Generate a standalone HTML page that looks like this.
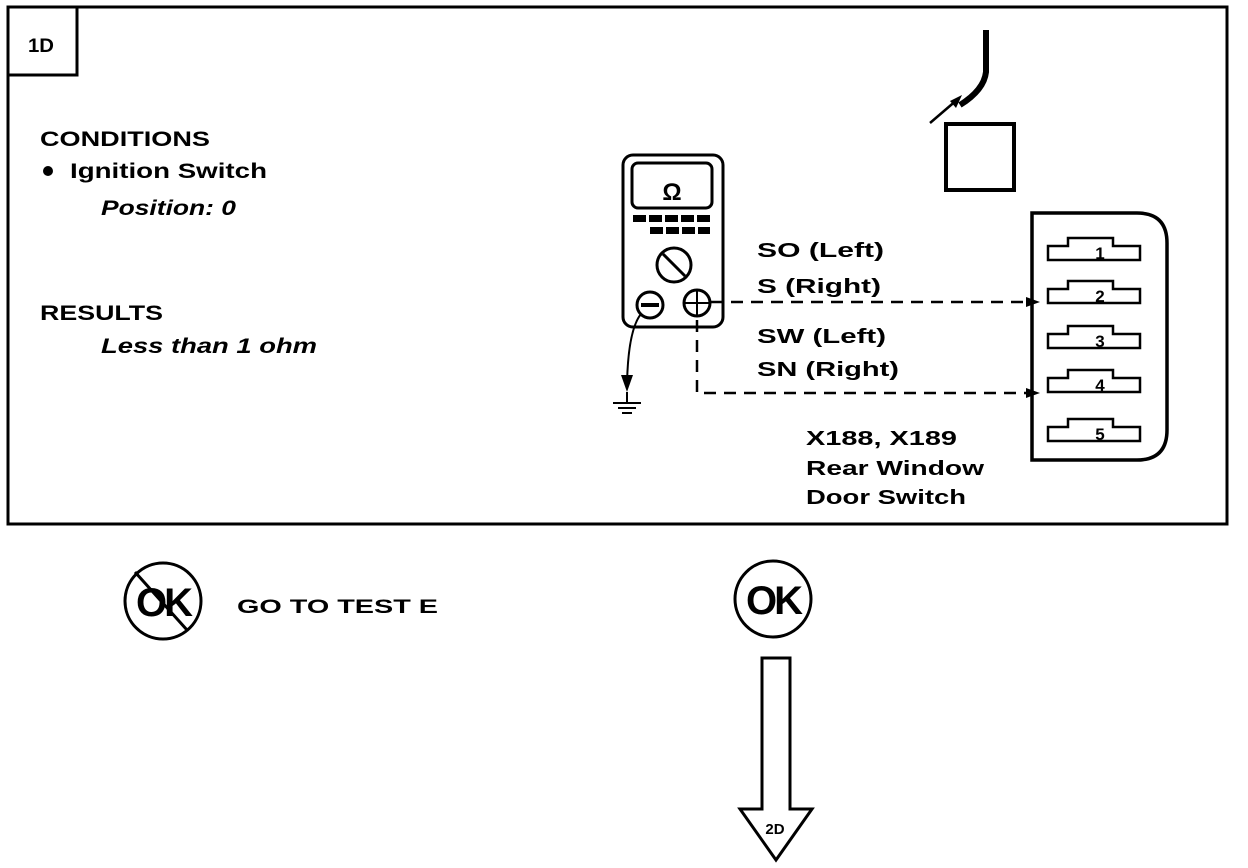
<!DOCTYPE html>
<html><head><style>html,body{margin:0;padding:0;background:#fff}svg{display:block}text{font-family:"Liberation Sans",sans-serif;font-weight:bold;fill:#000}</style></head>
<body>
<svg width="1248" height="868" viewBox="0 0 1248 868" xmlns="http://www.w3.org/2000/svg">
<rect x="8" y="7" width="1219" height="517" fill="none" stroke="#000" stroke-width="3"/>
<rect x="8" y="7" width="69" height="68" fill="none" stroke="#000" stroke-width="3"/>
<text x="28" y="52" font-size="19" textLength="26" lengthAdjust="spacingAndGlyphs">1D</text>
<text x="40" y="146" font-size="21" textLength="170" lengthAdjust="spacingAndGlyphs">CONDITIONS</text>
<circle cx="48" cy="171" r="5"/>
<text x="70" y="178" font-size="21" textLength="197" lengthAdjust="spacingAndGlyphs">Ignition Switch</text>
<text x="101" y="215" font-size="21" font-style="italic" font-weight="normal" textLength="135" lengthAdjust="spacingAndGlyphs">Position: 0</text>
<text x="40" y="320" font-size="21" textLength="123" lengthAdjust="spacingAndGlyphs">RESULTS</text>
<text x="101" y="353" font-size="21" font-style="italic" font-weight="normal" textLength="216" lengthAdjust="spacingAndGlyphs">Less than 1 ohm</text>
<!-- meter -->
<rect x="623" y="155" width="100" height="172" rx="10" fill="none" stroke="#000" stroke-width="3"/>
<rect x="632" y="163" width="80" height="45" rx="6" fill="none" stroke="#000" stroke-width="3"/>
<text x="672" y="200" font-size="24" text-anchor="middle">Ω</text>
<g fill="#000"><rect x="633" y="215" width="13" height="7"/><rect x="649" y="215" width="13" height="7"/><rect x="665" y="215" width="13" height="7"/><rect x="681" y="215" width="13" height="7"/><rect x="697" y="215" width="13" height="7"/>
<rect x="650" y="227" width="13" height="7"/><rect x="666" y="227" width="13" height="7"/><rect x="682" y="227" width="13" height="7"/><rect x="698" y="227" width="12" height="7"/></g>
<circle cx="674" cy="265" r="17" fill="none" stroke="#000" stroke-width="3"/>
<line x1="663" y1="254" x2="685" y2="276" stroke="#000" stroke-width="3"/>
<circle cx="650" cy="305" r="13" fill="none" stroke="#000" stroke-width="3"/>
<line x1="641" y1="305" x2="659" y2="305" stroke="#000" stroke-width="4"/>
<circle cx="697" cy="303" r="13" fill="none" stroke="#000" stroke-width="3"/>
<line x1="684" y1="303" x2="710" y2="303" stroke="#000" stroke-width="2"/>
<line x1="697" y1="290" x2="697" y2="316" stroke="#000" stroke-width="2"/>
<path d="M641 314 Q628 330 627 385" fill="none" stroke="#000" stroke-width="2"/>
<path d="M621 375 L627 392 L633 375 Z"/>
<line x1="627" y1="392" x2="627" y2="402" stroke="#000" stroke-width="2"/>
<line x1="613" y1="403" x2="641" y2="403" stroke="#000" stroke-width="2"/>
<line x1="618" y1="408" x2="636" y2="408" stroke="#000" stroke-width="2"/>
<line x1="622" y1="413" x2="632" y2="413" stroke="#000" stroke-width="2"/>
<path d="M711 302 H1030" stroke="#000" stroke-width="2.5" stroke-dasharray="12,8" fill="none"/>
<path d="M697 320 V393 H1030" stroke="#000" stroke-width="2.5" stroke-dasharray="12,8" fill="none"/>
<path d="M1026 297 L1040 302 L1026 307 Z"/>
<path d="M1026 388 L1040 393 L1026 398 Z"/>
<text x="757" y="257" font-size="20" textLength="127" lengthAdjust="spacingAndGlyphs">SO  (Left)</text>
<text x="757" y="293" font-size="20" textLength="124" lengthAdjust="spacingAndGlyphs">S  (Right)</text>
<text x="757" y="343" font-size="20" textLength="129" lengthAdjust="spacingAndGlyphs">SW  (Left)</text>
<text x="757" y="376" font-size="20" textLength="142" lengthAdjust="spacingAndGlyphs">SN  (Right)</text>
<text x="806" y="445" font-size="20" textLength="151" lengthAdjust="spacingAndGlyphs">X188, X189</text>
<text x="806" y="475" font-size="20" textLength="178" lengthAdjust="spacingAndGlyphs">Rear Window</text>
<text x="806" y="504" font-size="20" textLength="160" lengthAdjust="spacingAndGlyphs">Door Switch</text>
<!-- connector -->
<path d="M1032 213 H1137 Q1167 213 1167 243 V430 Q1167 460 1137 460 H1032 Z" fill="none" stroke="#000" stroke-width="3.5"/>
<g fill="none" stroke="#000" stroke-width="2.5">
<path d="M1048 246 H1068 V238 H1113 V246 H1140 V260 H1048 Z"/>
<path d="M1048 289 H1068 V281 H1113 V289 H1140 V303 H1048 Z"/>
<path d="M1048 334 H1068 V326 H1113 V334 H1140 V348 H1048 Z"/>
<path d="M1048 378 H1068 V370 H1113 V378 H1140 V392 H1048 Z"/>
<path d="M1048 427 H1068 V419 H1113 V427 H1140 V441 H1048 Z"/>
</g>
<g font-size="17" text-anchor="middle"><text x="1100" y="259">1</text><text x="1100" y="302">2</text><text x="1100" y="347">3</text><text x="1100" y="391">4</text><text x="1100" y="440">5</text></g>
<!-- square & wire -->
<rect x="946" y="124" width="68" height="66" fill="none" stroke="#000" stroke-width="4"/>
<path d="M986 30 V72 Q984 90 960 105" fill="none" stroke="#000" stroke-width="6"/>
<line x1="930" y1="123" x2="958" y2="99" stroke="#000" stroke-width="2.5"/>
<path d="M950 101 L962 95 L956 108 Z"/>
<!-- bottom -->
<circle cx="163" cy="601" r="38" fill="none" stroke="#000" stroke-width="3"/>
<text x="163" y="616" font-size="40" text-anchor="middle" letter-spacing="-3">OK</text>
<line x1="135" y1="572" x2="187" y2="630" stroke="#000" stroke-width="3"/>
<text x="237" y="613" font-size="19" textLength="201" lengthAdjust="spacingAndGlyphs">GO TO TEST E</text>
<circle cx="773" cy="599" r="38" fill="none" stroke="#000" stroke-width="3"/>
<text x="773" y="614" font-size="40" text-anchor="middle" letter-spacing="-3">OK</text>
<path d="M762 658 H790 V809 H812 L776 860 L740 809 H762 Z" fill="none" stroke="#000" stroke-width="3"/>
<text x="775" y="834" font-size="15" text-anchor="middle">2D</text>
</svg>
</body></html>
